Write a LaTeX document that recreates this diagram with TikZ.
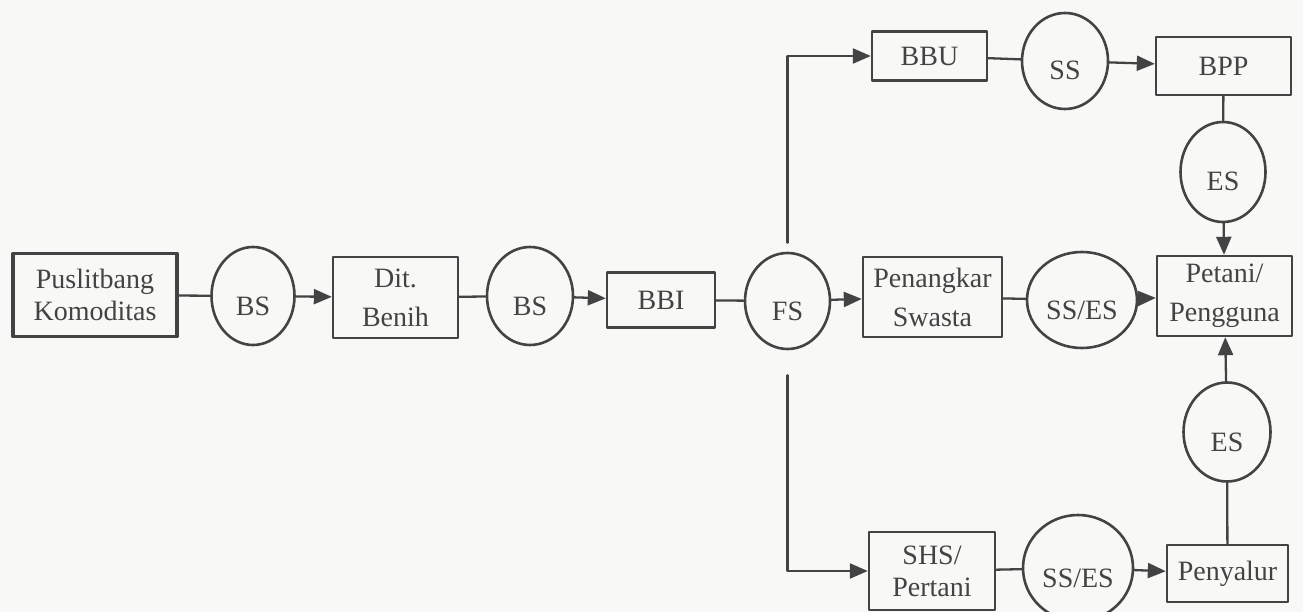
\documentclass[tikz,border=0pt]{standalone}
\usepackage{fontspec}
\setmainfont{Liberation Serif}
\usetikzlibrary{arrows.meta,shapes.geometric}
\definecolor{ScanInk}{HTML}{434343}
\definecolor{ScanPaper}{HTML}{F8F8F6}

\begin{document}
\begin{tikzpicture}[x=1pt,y=-1pt,line cap=round,line join=round,
  every node/.style={text=ScanInk,font=\fontsize{28}{32}\selectfont,align=center,inner sep=0pt},
  tall/.style={font=\fontsize{28}{39}\selectfont},
  box/.style={draw=ScanInk,line width=2.4pt,rectangle},
  seed/.style={draw=ScanInk,line width=2.6pt,ellipse,text height=38pt,text depth=0pt},
  link/.style={draw=ScanInk,line width=2.3pt},
  flow/.style={link,-{Triangle[length=18pt,width=15pt]}}]
  \fill[ScanPaper] (0,0) rectangle (1303,612);
  \useasboundingbox (0,0) rectangle (1303,612);
  \node[box,line width=3.6pt,minimum width=164pt,minimum height=83pt] (pus) at (95,295) {Puslitbang\\Komoditas};
  \node[seed,minimum width=83pt,minimum height=98pt] (bsa) at (253,296) {BS};
  \node[box,tall,minimum width=125pt,minimum height=81pt] (dit) at (395.5,297.5) {Dit.\\Benih};
  \node[seed,minimum width=86pt,minimum height=98pt] (bsb) at (530,296) {BS};
  \node[box,minimum width=108pt,minimum height=55pt] (bbi) at (661,300) {BBI};
  \node[seed,minimum width=85pt,minimum height=96pt] (fs) at (787.5,301) {FS};
  \node[box,tall,minimum width=139pt,minimum height=80pt] (pen) at (932.5,297) {Penangkar\\Swasta};
  \node[seed,minimum width=110pt,minimum height=96pt] (ssm) at (1082,300) {SS/ES};
  \node[box,tall,minimum width=135pt,minimum height=80pt] (pet) at (1224.5,296) {Petani/\\Pengguna};
  \node[box,minimum width=115pt,minimum height=49pt] (bbu) at (929.5,56) {BBU};
  \node[seed,minimum width=86pt,minimum height=96pt] (ssa) at (1065,61) {SS};
  \node[box,minimum width=135pt,minimum height=58pt] (bpp) at (1223.5,66) {BPP};
  \node[seed,minimum width=85pt,minimum height=100pt] (esa) at (1223,172) {ES};
  \node[seed,minimum width=87pt,minimum height=99pt] (esb) at (1227,432) {ES};
  \node[box,minimum width=121pt,minimum height=57pt] (peny) at (1227.5,573.5) {Penyalur};
  \node[seed,minimum width=110pt,minimum height=106pt] (ssb) at (1078,568) {SS/ES};
  \node[box,minimum width=126pt,minimum height=78pt] (shs) at (932,571) {SHS/\\Pertani};
  \foreach \a/\b in {pus/bsa,dit/bsb,bbi/fs,pen/ssm,bbu/ssa,bpp/esa,shs/ssb,peny/esb}{\draw[link] (\a)--(\b);}
  \foreach \a/\b in {bsa/dit,bsb/bbi,fs/pen,ssm/pet,ssa/bpp,esa/pet,ssb/peny,esb/pet}{\draw[flow] (\a)--(\b);}
  \draw[flow] ([yshift=9pt]fs.north) |- (bbu);
  \draw[flow] ([yshift=-25pt]fs.south) |- (shs);
\end{tikzpicture}
\end{document}
